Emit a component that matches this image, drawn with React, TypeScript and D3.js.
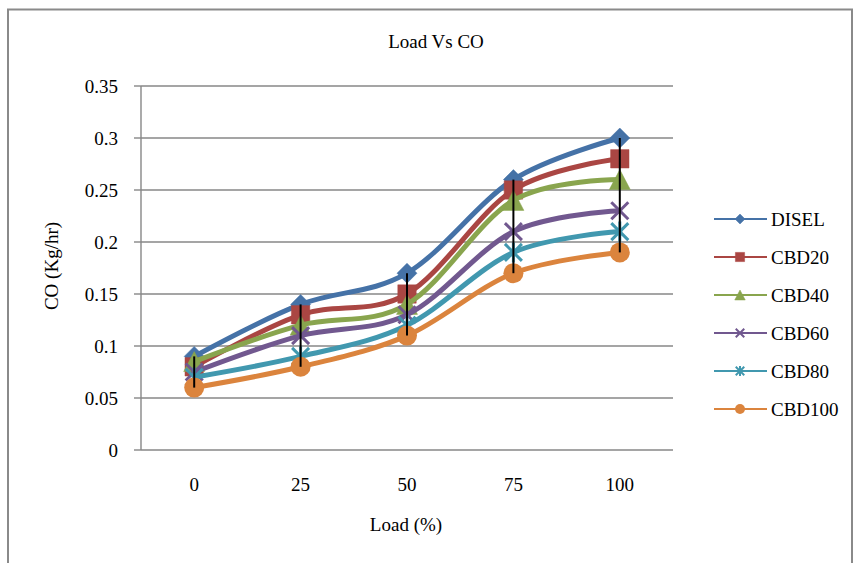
import React from "react";
import * as d3 from "d3";

const categories = ["0", "25", "50", "75", "100"];
const seriesNames = ["DISEL", "CBD20", "CBD40", "CBD60", "CBD80", "CBD100"];
const disel = [0.09, 0.14, 0.17, 0.26, 0.3];
const cbd20 = [0.08, 0.13, 0.15, 0.25, 0.28];
const cbd40 = [0.085, 0.12, 0.14, 0.24, 0.26];
const cbd60 = [0.075, 0.11, 0.13, 0.21, 0.23];
const cbd80 = [0.07, 0.09, 0.12, 0.19, 0.21];
const cbd100 = [0.06, 0.08, 0.11, 0.17, 0.19];
const yTicks = [0, 0.05, 0.1, 0.15, 0.2, 0.25, 0.3, 0.35];
const colors = ["#4572A7", "#AA4643", "#89A54E", "#71588F", "#4198AF", "#DB843D"];
const markerTypes = ["diamond", "square", "triangle", "x", "star", "circle"];

const W = 855;
const H = 563;
const plot = { left: 141, right: 673, top: 86, bottom: 450 };
const FONT = "'Liberation Serif', 'Times New Roman', serif";
const FS = 19;

function markerPath(type: string, r: number): string {
  switch (type) {
    case "diamond":
      return `M0,${-r}L${r},0L0,${r}L${-r},0Z`;
    case "square": {
      const s = r * 0.92;
      return `M${-s},${-s}H${s}V${s}H${-s}Z`;
    }
    case "triangle":
      return `M0,${-r}L${r * 1.05},${r}L${-r * 1.05},${r}Z`;
    case "x": {
      const s = r * 0.85;
      return `M${-s},${-s}L${s},${s}M${s},${-s}L${-s},${s}`;
    }
    case "star": {
      const s = r * 0.85;
      return `M${-s},${-s}L${s},${s}M${s},${-s}L${-s},${s}M0,${-r}L0,${r}`;
    }
    default:
      return "";
  }
}

function Marker({ type, r, color, x, y, sw }: { type: string; r: number; color: string; x: number; y: number; sw: number }) {
  if (type === "circle") return <circle cx={x} cy={y} r={r} fill={color} />;
  const filled = type === "diamond" || type === "square" || type === "triangle";
  return (
    <path
      d={markerPath(type, r)}
      transform={`translate(${x},${y})`}
      fill={filled ? color : "none"}
      stroke={color}
      strokeWidth={filled ? 0.5 : sw}
    />
  );
}

export default function App() {
  const series = [disel, cbd20, cbd40, cbd60, cbd80, cbd100];
  const x = d3.scalePoint<string>().domain(categories).range([plot.left, plot.right]).padding(0.5);
  const y = d3.scaleLinear().domain([0, 0.35]).range([plot.bottom, plot.top]);
  const line = d3
    .line<number>()
    .x((_, i) => x(categories[i]) as number)
    .y((d) => y(d))
    .curve(d3.curveCatmullRom.alpha(0));

  const legendX = 714;
  const legendY0 = 219;
  const legendStep = 38;

  return (
    <svg width={W} height={H} style={{ position: "absolute", left: 0, top: 0, background: "#fff" }} fontFamily={FONT}>
      <rect x={0} y={0} width={W} height={H} fill="#fff" />
      {/* outer frame */}
      <path d={`M8,${H}V9.5H852V${H}`} fill="none" stroke="#8a8a8a" strokeWidth={2} />

      {/* title */}
      <text x={436} y={48} textAnchor="middle" fontSize={FS} fill="#000">
        Load Vs CO
      </text>

      {/* gridlines */}
      {yTicks.map((t) =>
        t === 0 ? null : (
          <line key={t} x1={plot.left} x2={plot.right} y1={y(t)} y2={y(t)} stroke="#878787" strokeWidth={1.4} />
        )
      )}
      {/* axes */}
      <line x1={plot.left} x2={plot.left} y1={plot.top} y2={plot.bottom} stroke="#878787" strokeWidth={1.4} />
      <line x1={plot.left} x2={plot.right} y1={plot.bottom} y2={plot.bottom} stroke="#878787" strokeWidth={1.4} />
      {yTicks.map((t) => (
        <g key={"yt" + t}>
          <line x1={plot.left - 7} x2={plot.left} y1={y(t)} y2={y(t)} stroke="#878787" strokeWidth={1.4} />
          <text x={118} y={y(t) + 6.5} textAnchor="end" fontSize={FS} fill="#000">
            {String(t)}
          </text>
        </g>
      ))}
      {categories.map((c) => (
        <text key={"xt" + c} x={x(c)} y={491} textAnchor="middle" fontSize={FS} fill="#000">
          {c}
        </text>
      ))}

      {/* axis titles */}
      <text transform={`translate(58,266) rotate(-90)`} textAnchor="middle" fontSize={FS} fill="#000">
        CO (Kg/hr)
      </text>
      <text x={406} y={531} textAnchor="middle" fontSize={FS} fill="#000">
        Load (%)
      </text>

      {/* series */}
      {series.map((vals, si) => (
        <g key={"s" + si}>
          <path d={line(vals) || ""} fill="none" stroke={colors[si]} strokeWidth={5} strokeLinejoin="round" strokeLinecap="round" />
          {vals.map((v, i) => (
            <Marker key={i} type={markerTypes[si]} r={10} color={colors[si]} x={x(categories[i]) as number} y={y(v)} sw={3} />
          ))}
        </g>
      ))}

      {/* high-low lines */}
      {categories.map((c, i) => {
        const vals = series.map((s) => s[i]);
        const hi = d3.max(vals) as number;
        const lo = d3.min(vals) as number;
        return (
          <line key={"hl" + c} x1={x(c)} x2={x(c)} y1={y(hi)} y2={y(lo)} stroke="#000" strokeWidth={2} />
        );
      })}

      {/* legend */}
      {seriesNames.map((n, si) => {
        const ly = legendY0 + si * legendStep;
        return (
          <g key={"lg" + n}>
            <line x1={legendX} x2={legendX + 53} y1={ly} y2={ly} stroke={colors[si]} strokeWidth={2.2} />
            <Marker type={markerTypes[si]} r={5} color={colors[si]} x={legendX + 26} y={ly} sw={2} />
            <text x={771} y={ly + 7} fontSize={FS} fill="#000">
              {n}
            </text>
          </g>
        );
      })}
    </svg>
  );
}
